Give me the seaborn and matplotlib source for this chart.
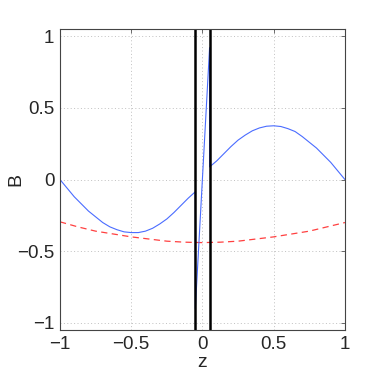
import matplotlib
matplotlib.use('Agg')
import matplotlib.pyplot as plt
import seaborn as sns
import pandas as pd

# blue solid curve (with jumps at the walls)
z_blue = [-1.0, -0.95, -0.9, -0.85, -0.8, -0.75, -0.7, -0.65, -0.6, -0.55,
          -0.5, -0.45, -0.4, -0.35, -0.3, -0.25, -0.2, -0.15, -0.1, -0.05,
          -0.05, 0.05,
          0.05, 0.1, 0.15, 0.2, 0.25, 0.3, 0.35, 0.4, 0.45, 0.5,
          0.55, 0.6, 0.65, 0.7, 0.75, 0.8, 0.85, 0.9, 0.95, 1.0]
b_blue = [0.0, -0.06, -0.12, -0.17, -0.22, -0.26, -0.30, -0.33, -0.35, -0.365,
          -0.37, -0.37, -0.36, -0.34, -0.31, -0.275, -0.23, -0.18, -0.13, -0.085,
          -0.90, 0.92,
          0.088, 0.13, 0.18, 0.23, 0.275, 0.31, 0.34, 0.36, 0.372, 0.375,
          0.37, 0.355, 0.335, 0.30, 0.26, 0.22, 0.17, 0.12, 0.06, 0.0]

# red dashed curve
z_red = [-1.0, -0.875, -0.75, -0.625, -0.5, -0.375, -0.25, -0.125, 0.0,
         0.125, 0.25, 0.375, 0.5, 0.625, 0.75, 0.875, 1.0]
b_red = [-0.295, -0.33, -0.36, -0.38, -0.40, -0.415, -0.43, -0.437, -0.44,
         -0.437, -0.43, -0.415, -0.40, -0.38, -0.36, -0.33, -0.30]

# wall positions
walls = [-0.05, 0.05]

xticks = [-1, -0.5, 0, 0.5, 1]
yticks = [-1, -0.5, 0, 0.5, 1]
xticklabels = ['\u22121', '\u22120.5', '0', '0.5', '1']
yticklabels = ['\u22121', '\u22120.5', '0', '0.5', '1']

sns.set_style('white')
plt.rcParams['font.family'] = ['Liberation Sans', 'DejaVu Sans']

df_blue = pd.DataFrame({'z': z_blue, 'B': b_blue})
df_red = pd.DataFrame({'z': z_red, 'B': b_red})

fig = plt.figure(figsize=(3.82, 3.82), dpi=100)
ax = fig.add_axes([0.157, 0.136, 0.746, 0.788])

ax.grid(True, linestyle=(0, (1, 2.5)), color='#c0c0c0', linewidth=0.7)
sns.lineplot(data=df_red, x='z', y='B', ax=ax, sort=False, estimator=None,
             color='#ff4040', linewidth=0.9, linestyle=(0, (5, 3.5)))
sns.lineplot(data=df_blue, x='z', y='B', ax=ax, sort=False, estimator=None,
             color='#4a6cff', linewidth=0.8)
for w in walls:
    ax.axvline(w, color='black', linewidth=1.8)

ax.set_xlim(-1, 1)
ax.set_ylim(-1.05, 1.05)
ax.set_xticks(xticks)
ax.set_xticklabels(xticklabels)
ax.set_yticks(yticks)
ax.set_yticklabels(yticklabels)
ax.tick_params(direction='in', length=3, width=0.6, color='#555555',
               labelsize=13.5, top=True, right=True, pad=4)
for s in ax.spines.values():
    s.set_color('#444444')
    s.set_linewidth(0.8)
ax.set_xlabel('z', fontsize=14, labelpad=1)
ax.set_ylabel('B', fontsize=14)
ax.yaxis.set_label_coords(-0.125, 0.5)
ax.set_axisbelow(True)

fig.savefig('out.png', dpi=100)
